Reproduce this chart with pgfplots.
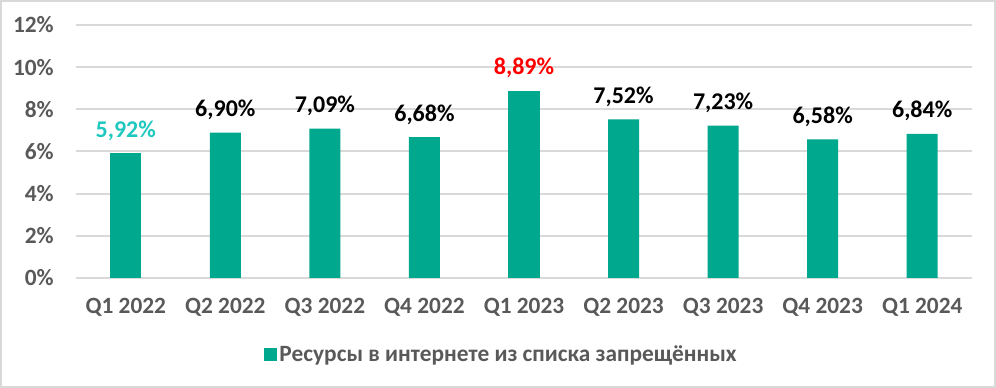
\documentclass[border=0pt]{standalone}
\usepackage{fontspec}
\setmainfont{Carlito}
\usepackage{pgfplots}
\pgfplotsset{compat=1.18}
\definecolor{barc}{HTML}{00A88E}
\definecolor{cyanl}{HTML}{1FC8BF}
\definecolor{redl}{HTML}{FF0000}
\definecolor{txtgray}{HTML}{595959}
\definecolor{gridc}{HTML}{D9D9D9}
\begin{document}
\begin{tikzpicture}[x=0.75pt,y=0.75pt]
\draw[color=gridc, line width=1.5pt] (1,1) rectangle (995,387);
\begin{axis}[
  at={(57pt,82.5pt)}, anchor=south west,
  scale only axis, width=672pt, height=189.75pt,
  xmin=-0.5, xmax=8.5, ymin=0, ymax=12,
  ybar, bar width=23.25pt, bar shift=0pt,
  xtick={0,...,8},
  xticklabels={Q1 2022,Q2 2022,Q3 2022,Q4 2022,Q1 2023,Q2 2023,Q3 2023,Q4 2023,Q1 2024},
  ytick={0,2,...,12},
  yticklabel={\pgfmathprintnumber{\tick}\%},
  /pgf/number format/assume math mode=true,
  ymajorgrids, grid style={color=gridc, line width=1.5pt},
  axis line style={draw=none},
  tick style={draw=none},
  ticklabel style={font=\fontsize{17.5pt}{20pt}\selectfont\bfseries, text=txtgray},
  xticklabel style={anchor=base, yshift=-22pt},
  yticklabel style={anchor=east, inner sep=0pt, xshift=-16.5pt},
  nodes near coords={\pgfmathprintnumber[fixed,fixed zerofill,precision=2,use comma]{\pgfplotspointmeta}\%},
  every node near coord/.append style={font=\fontsize{18pt}{21pt}\selectfont\bfseries, anchor=base, inner sep=0pt, yshift=12pt},
  legend style={at={(rel axis cs:0.475,-0.304)}, anchor=center, draw=none, fill=none,
    font=\fontsize{17.5pt}{20pt}\selectfont\bfseries, text=txtgray,
    /tikz/every odd column/.style={column sep=0pt}},
  legend image code/.code={\fill[barc] (0pt,-4.5pt) rectangle (9.75pt,5.25pt);},
]
\addplot[fill=barc, draw=none, every node near coord/.append style={text=black}]
  coordinates {(1,6.90) (2,7.09) (3,6.68) (5,7.52) (6,7.23) (7,6.58) (8,6.84)};
\addlegendentry{Ресурсы в интернете из списка запрещённых}
\addplot[fill=barc, draw=none, forget plot, every node near coord/.append style={text=cyanl}]
  coordinates {(0,5.92)};
\addplot[fill=barc, draw=none, forget plot, every node near coord/.append style={text=redl}]
  coordinates {(4,8.89)};
\end{axis}
\end{tikzpicture}
\end{document}
